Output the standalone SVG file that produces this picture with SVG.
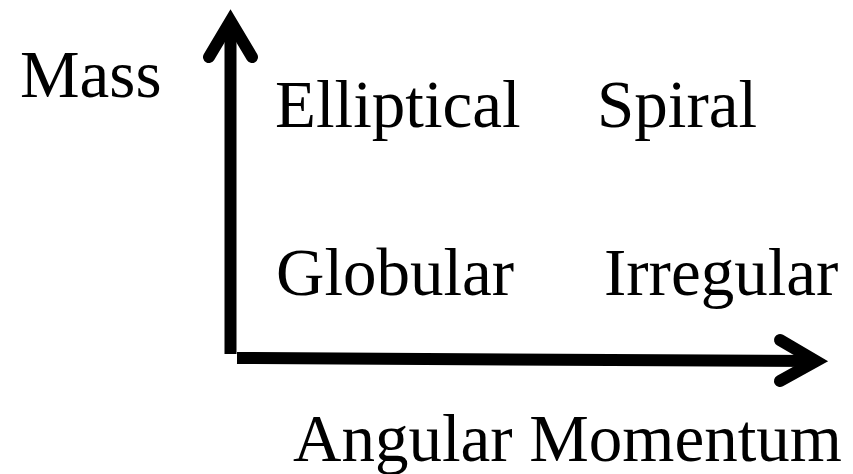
<svg xmlns="http://www.w3.org/2000/svg" width="853" height="474" viewBox="0 0 853 474">
<style>
text{font-family:"Liberation Serif","Times New Roman",serif;font-size:67px;fill:#000}
.ax{fill:none;stroke:#000;stroke-width:12}
.head{fill:none;stroke:#000;stroke-width:12;stroke-linecap:round;stroke-linejoin:miter;stroke-miterlimit:10}
</style>
<rect width="853" height="474" fill="#fff"/>
<g id="connectors">
<line class="ax" x1="230.5" y1="354" x2="230.5" y2="22"/>
<polyline class="head" points="209,57 230.5,21 252,57"/>
<line class="ax" x1="237" y1="358" x2="816" y2="361"/>
<polyline class="head" points="780,340 816,361 780,381"/>
</g>
<g id="mass"><text x="20" y="97">Mass</text></g>
<g id="elliptical"><text x="275" y="127">Elliptical</text></g>
<g id="spiral"><text x="597" y="127">Spiral</text></g>
<g id="globular"><text x="276" y="295">Globular</text></g>
<g id="irregular"><text x="604" y="295">Irregular</text></g>
<g id="angular"><text x="293" y="461">Angular Momentum</text></g>
</svg>
